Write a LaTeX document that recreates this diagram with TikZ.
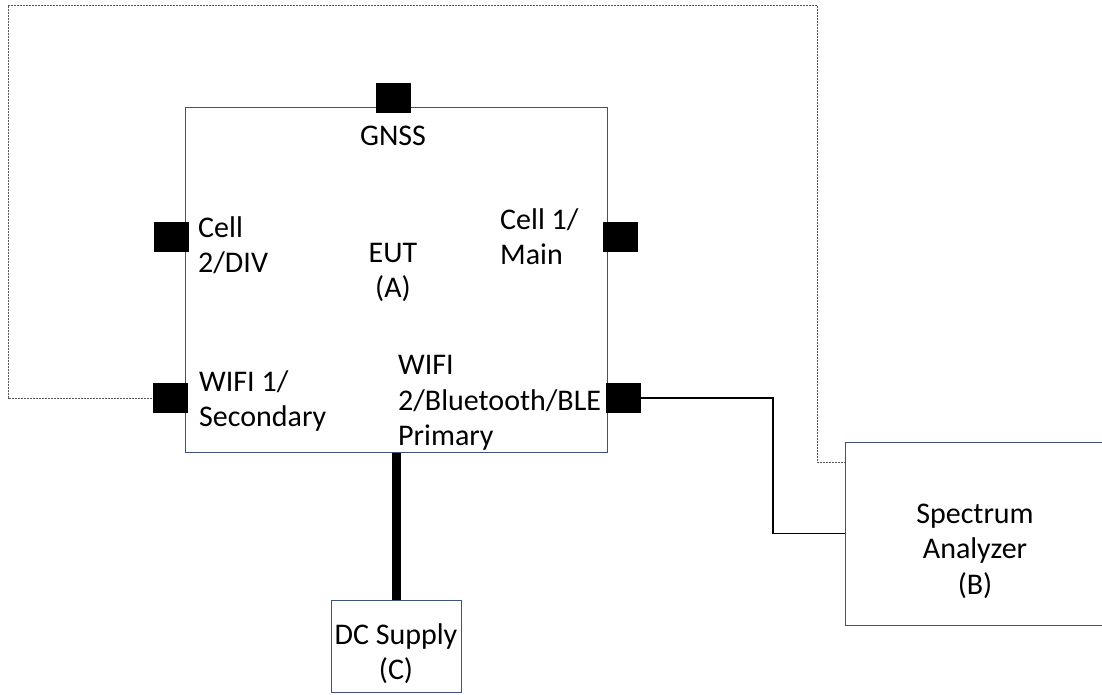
\documentclass[tikz,border=0pt]{standalone}
\usepackage{fontspec}
\setmainfont{Carlito}
\definecolor{boxblue}{RGB}{62,82,124}
\definecolor{dotgray}{RGB}{85,85,85}
\begin{document}
\begin{tikzpicture}[x=1pt,y=-1pt,
  lbl/.style={inner sep=0, font=\fontsize{30}{35.5}\selectfont, text=black},
  lbll/.style={lbl, anchor=north west, align=left},
  lblc/.style={lbl, anchor=north, align=center},
  port/.style={draw=none, fill=black, minimum width=35pt, minimum height=30pt, inner sep=0},
  unit/.style={draw=boxblue, line width=1pt, inner sep=0},
  dotline/.style={draw=dotgray, line width=0.9pt, dash pattern=on 2pt off 1pt},
  cable/.style={draw=black, line width=1.3pt},
  power/.style={draw=black, line width=9pt}]
\clip (0,0) rectangle (1102,694);
\useasboundingbox (0,0) rectangle (1102,694);
\fill[white] (0,0) rectangle (1102,694);
% units
\node[unit, minimum width=422pt, minimum height=345pt] (eut) at (396,279.5) {};
\node[unit, minimum width=265pt, minimum height=183pt] (sa) at (977.5,533.5) {};
\node[unit, minimum width=130pt, minimum height=92.5pt] (dc) at (396,646.25) {};
% power cable
\draw[power] (dc.north) -- (dc.north |- eut.south);
% ports
\node[port] (gnss) at (393,98) {};
\node[port] (c2) at (171,237) {};
\node[port] (c1) at (620,237) {};
\node[port] (w1) at (170,398) {};
\node[port] (w2) at (623,398) {};
% labels
\node[lblc] (tgnss) at (393,120) {\strut GNSS};
\node[lbll] (tc2) at (198,212) {\strut Cell\\2/DIV};
\node[lbll] (tc1) at (500,204) {\strut Cell 1/\\Main};
\node[lblc] (teut) at (393,237) {\strut EUT\\(A)};
\node[lbll] (tw1) at (199,366) {\strut WIFI 1/\\Secondary};
\node[lbll] (tw2) at (398,349.5) {\strut WIFI\\2/Bluetooth/BLE\\Primary};
\node[lblc] (tsa) at (975,498) {\strut Spectrum\\Analyzer\\(B)};
\node[lblc] (tdc) at (396,619) {\strut DC Supply\\(C)};
% connectors
\coordinate (d1) at (8,5);
\coordinate (d2) at (817,462);
\draw[dotline] (w1.west) -| (d1) -| (d2) -- (d2 -| sa.west);
\coordinate (k) at (773,398);
\draw[cable] (w2.east) -- (k) |- (sa.west);
\end{tikzpicture}
\end{document}
